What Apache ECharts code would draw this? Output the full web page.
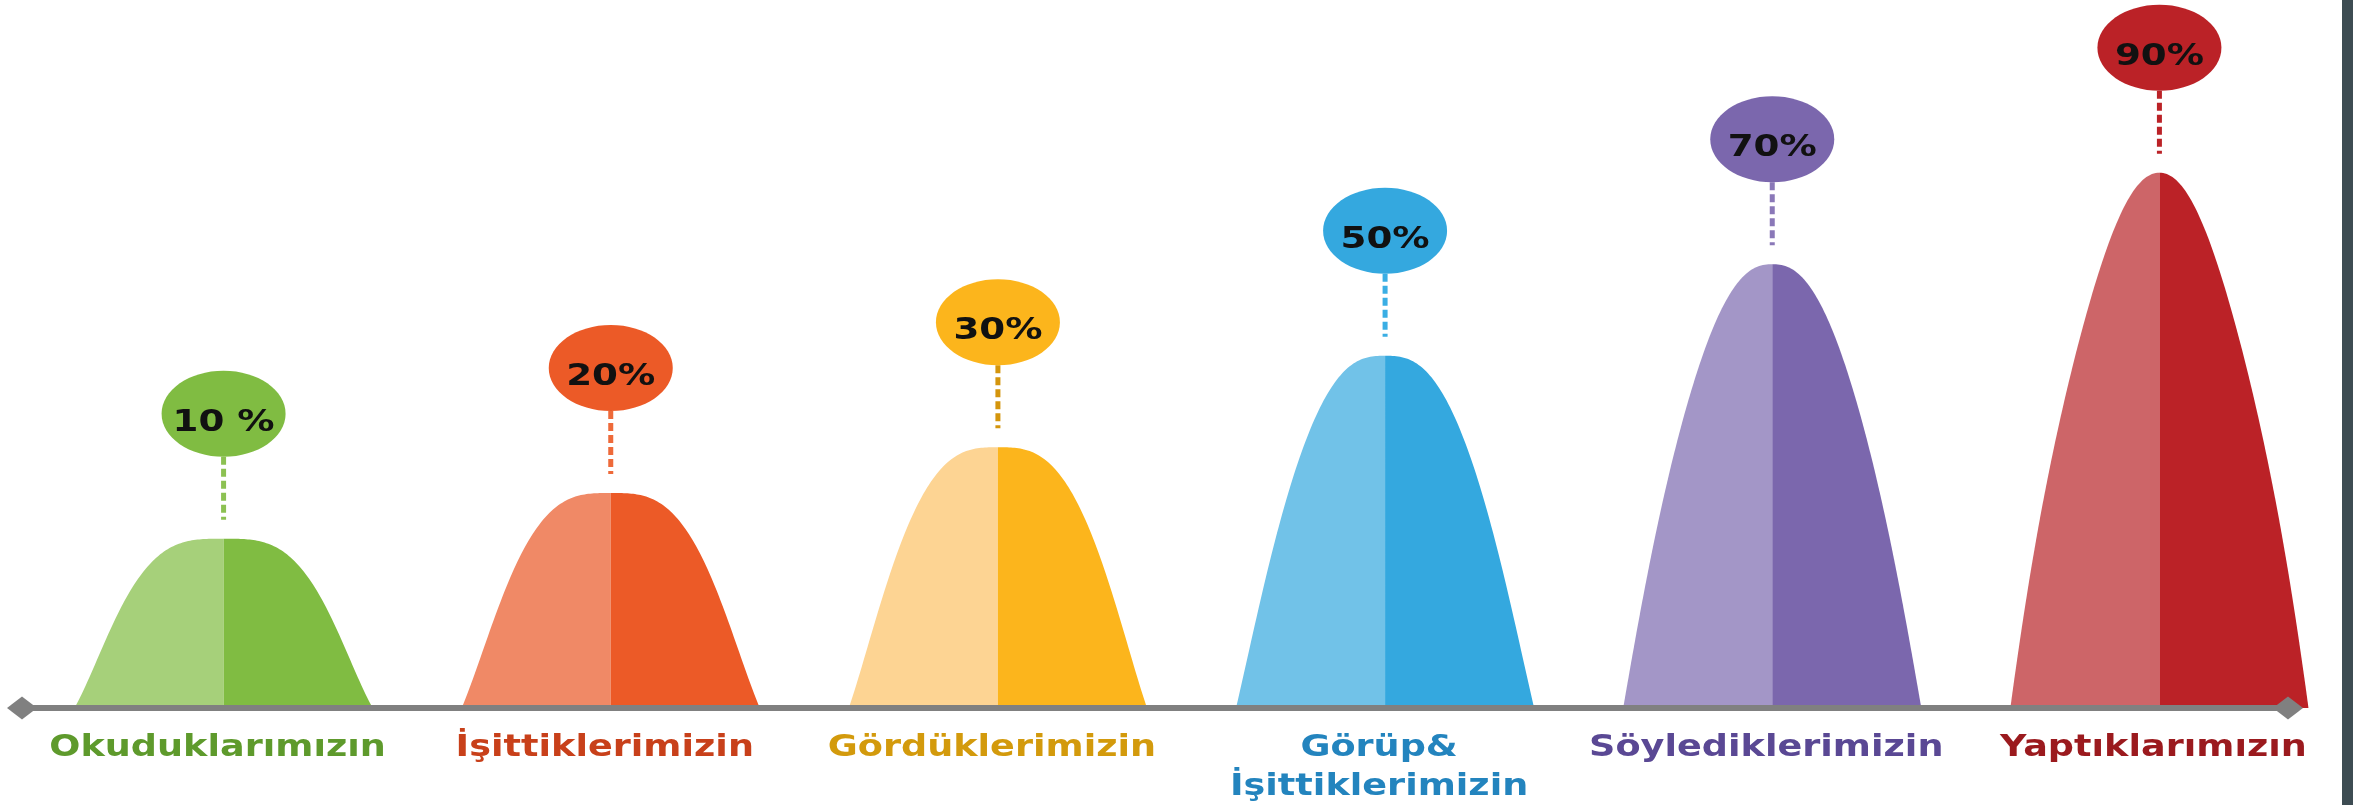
<!DOCTYPE html>
<html>
<head>
<meta charset="utf-8">
<script src="https://cdn.jsdelivr.net/npm/echarts@6/dist/echarts.min.js"></script>
<style>
  html, body { margin: 0; padding: 0; background: #fff; }
  #main { width: 2353px; height: 805px; }
</style>
</head>
<body>
<div id="main"></div>
<script>
const categories = [
  'Okuduklarımızın',
  'İşittiklerimizin',
  'Gördüklerimizin',
  'Görüp&\nİşittiklerimizin',
  'Söylediklerimizin',
  'Yaptıklarımızın'
];
const percents = [10, 20, 30, 50, 70, 90];
const percentLabels = ['10 %', '20%', '30%', '50%', '70%', '90%'];

const lightColors = ['#a6d07a', '#f08966', '#fdd493', '#71c2e8', '#a396c7', '#cd6568'];
const darkColors = ['#80bc42', '#ec5a27', '#fcb51c', '#34a8df', '#7b67ad', '#bb2227'];
const dashColors = ['#8cc152', '#ee6a3a', '#d4950c', '#3aaee4', '#8a78b8', '#bb2227'];
const textColors = ['#5e9a2c', '#c8401a', '#d39a0c', '#2384be', '#5a4894', '#9b1a1e'];

const Y_MIN = -27;

const chart = echarts.init(document.getElementById('main'));

function lerp(a, b, t) { return a + (b - a) * t; }

// bell profile: height fraction at horizontal offset u (0 centre, 1 edge)
function profile(u, p) {
  return Math.exp(-Math.pow(u / 0.865, p)) * (1 - Math.pow(u, 8));
}

// half of a bell as polygon points, side = -1 (left) or 1 (right)
function bellHalf(xc, yb, yt, hw, k, side) {
  const h = yb - yt;
  const p = lerp(3.3, 2.1, k);
  const pts = [[xc, yb]];
  const n = 80;
  for (let j = 0; j <= n; j++) {
    const u = 1 - j / n;
    pts.push([xc + side * u * hw, yb - profile(u, p) * h]);
  }
  return pts;
}

function renderItem(params, api) {
  const i = api.value(0);
  const v = api.value(1);
  const base = api.coord([i, Y_MIN]);
  const top = api.coord([i, v]);
  const band = api.size([1, 0])[0];
  const hw = band * 0.385;
  const xc = base[0], yb = base[1], yt = top[1];
  const k = Math.max(0, Math.min(1, (v - 10) / 80));
  const cy = yt - 125;
  return {
    type: 'group',
    children: [
      { type: 'polygon', shape: { points: bellHalf(xc, yb, yt, hw, k, -1) }, style: { fill: lightColors[i] } },
      { type: 'polygon', shape: { points: bellHalf(xc, yb, yt, hw, k, 1) }, style: { fill: darkColors[i] } },
      {
        type: 'line',
        shape: { x1: xc, y1: yt - 82, x2: xc, y2: yt - 19 },
        style: { stroke: dashColors[i], lineWidth: 5, lineDash: [8, 4] }
      },
      { type: 'ellipse', shape: { cx: xc, cy: cy, rx: 62, ry: 43 }, style: { fill: darkColors[i] } },
      {
        type: 'text',
        x: xc, y: cy + 9, scaleX: 1.24,
        style: {
          text: percentLabels[i], x: 0, y: 0,
          align: 'center', verticalAlign: 'middle',
          font: 'bold 30px "DejaVu Sans"', fill: '#111'
        }
      },
      {
        type: 'text',
        x: xc - 6, y: yb + 21, scaleX: 1.22,
        style: {
          text: categories[i], x: 0, y: 0,
          align: 'center', verticalAlign: 'top',
          font: 'bold 30px "DejaVu Sans"', lineHeight: 39, fill: textColors[i]
        }
      }
    ]
  };
}

const option = {
  animation: false,
  backgroundColor: '#fff',
  grid: [
    { left: 30, right: 0, top: 127, bottom: 97 },
    { left: 22, right: 65, top: 127, bottom: 97 }
  ],
  xAxis: [
    {
      type: 'category',
      gridIndex: 0,
      data: categories,
      axisLine: { show: false },
      axisTick: { show: false },
      splitLine: { show: false },
      axisLabel: { show: false }
    },
    {
      type: 'value',
      gridIndex: 1,
      min: 0,
      max: 1,
      z: 5,
      axisLine: {
        show: true,
        onZero: false,
        symbol: ['diamond', 'diamond'],
        symbolSize: [23, 30],
        lineStyle: { color: '#808080', width: 6 }
      },
      axisTick: { show: false },
      axisLabel: { show: false },
      splitLine: { show: false }
    }
  ],
  yAxis: [
    { type: 'value', gridIndex: 0, min: Y_MIN, max: 100, show: false },
    { type: 'value', gridIndex: 1, min: 0, max: 1, show: false }
  ],
  graphic: [
    { type: 'rect', right: 0, top: 0, shape: { width: 11, height: 805 }, style: { fill: '#3d4c52' } }
  ],
  series: [
    {
      type: 'custom',
      coordinateSystem: 'cartesian2d',
      xAxisIndex: 0,
      yAxisIndex: 0,
      clip: false,
      z: 3,
      data: percents.map((p, i) => [i, p]),
      renderItem: renderItem
    }
  ]
};

chart.setOption(option);
</script>
</body>
</html>
